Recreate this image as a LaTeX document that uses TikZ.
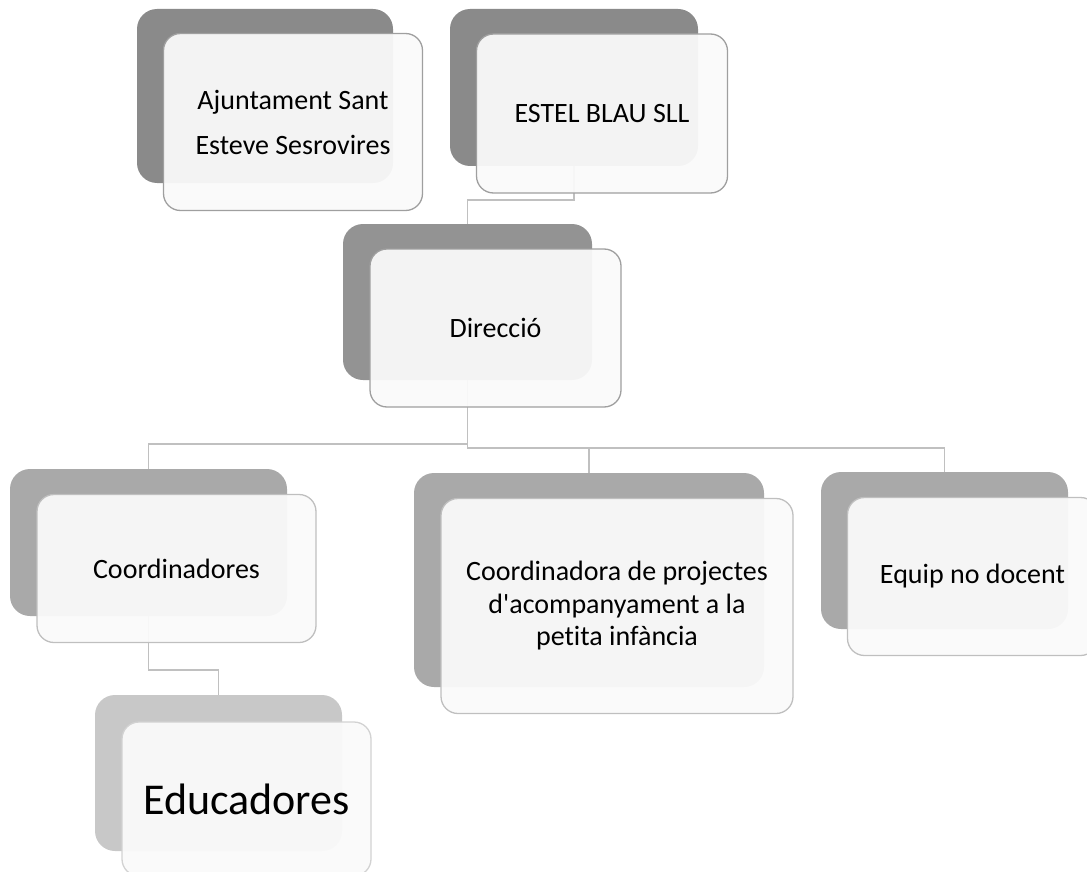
\documentclass[tikz,border=0pt]{standalone}
\usepackage{fontspec}
\setmainfont{Carlito}[Ligatures=NoCommon]
\usepackage{xcolor}
\definecolor{topgray}{HTML}{8A8A8A}
\definecolor{midgray}{HTML}{939393}
\definecolor{lowgray}{HTML}{A9A9A9}
\definecolor{palegray}{HTML}{C8C8C8}
\definecolor{frontfill}{HTML}{FAFAFA}
\definecolor{linkgray}{HTML}{C0C0C0}
\tikzset{backbox/.style={rounded corners=20pt, inner sep=0pt},
 frontbox/.style={rounded corners=17pt, fill=frontfill, fill opacity=0.94,
 text opacity=1, line width=1.3pt, align=center, inner sep=0pt,
 font=\fontsize{28}{34}\selectfont},
 link/.style={draw=linkgray, line width=1.6pt},
 }

\begin{document}
\begin{tikzpicture}[x=1pt, y=-1pt]
        \useasboundingbox (0,0) rectangle (1087,872);
        \clip (0,0) rectangle (1087,872);
        % back boxes
        \node[backbox, fill=topgray, minimum width=256, minimum height=174] (ajB) at (265,96) {};
        \node[backbox, fill=topgray, minimum width=248, minimum height=157] (esB) at (574,87.5) {};
        \node[backbox, fill=midgray, minimum width=249, minimum height=156] (diB) at (467.5,302) {};
        \node[backbox, fill=lowgray, minimum width=277, minimum height=147] (coB) at (148.5,542.5) {};
        \node[backbox, fill=lowgray, minimum width=350, minimum height=214] (cpB) at (589,580) {};
        \node[backbox, fill=lowgray, minimum width=247, minimum height=157] (eqB) at (944.5,550.5) {};
        \node[backbox, fill=palegray, minimum width=247, minimum height=156] (edB) at (218.5,773) {};
        % links
        \draw[link] (esB.south) -- +(0,34) -| (diB.north);
        \draw[link] (diB.south) -- +(0,64) -| (coB.north);
        \draw[link] (diB.south) -- +(0,68) -| (cpB.north);
        \draw[link] (diB.south) -- +(0,68) -| (eqB.north);
        \draw[link] (coB.south) -- +(0,54) -| (edB.north);
        % front boxes
        \node[frontbox, draw=gray!75, minimum width=259, minimum height=177,
              font=\fontsize{28}{45}\selectfont] (aj) at ([shift={(28,26)}]ajB.center)
              {Ajuntament Sant\\Esteve Sesrovires};
        \node[frontbox, draw=gray!75, minimum width=251, minimum height=159] (es) at ([shift={(28,26)}]esB.center) {ESTEL BLAU SLL};
        \node[frontbox, draw=gray!75, minimum width=251, minimum height=158] (di) at ([shift={(28,26)}]diB.center) {Direcció};
        \node[frontbox, draw=gray!50, minimum width=279, minimum height=148] (co) at ([shift={(28,26)}]coB.center) {Coordinadores};
        \node[frontbox, draw=gray!50, minimum width=352, minimum height=215,
              font=\fontsize{28}{32.5}\selectfont] (cp) at ([shift={(28,26)}]cpB.center)
              {Coordinadora de projectes\\d\textquotesingle acompanyament a la\\petita infància};
        \node[frontbox, draw=gray!50, minimum width=250, minimum height=158] (eq) at ([shift={(28,26)}]eqB.center) {Equip no docent};
        \node[frontbox, draw=gray!35, minimum width=249, minimum height=154,
              font=\fontsize{44}{50}\selectfont] (ed) at ([shift={(28,26)}]edB.center) {Educadores};
\end{tikzpicture}
\end{document}
